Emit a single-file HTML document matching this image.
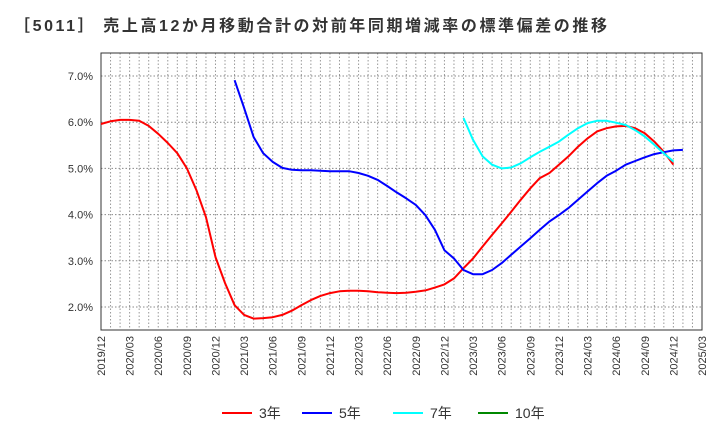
<!DOCTYPE html>
<html><head><meta charset="utf-8"><style>
body{margin:0;background:#fff;font-family:"Liberation Sans","Noto Sans CJK JP",sans-serif;}
svg text{font-family:"Liberation Sans","Noto Sans CJK JP",sans-serif;}
</style></head><body>
<svg id="c" width="720" height="440" xmlns="http://www.w3.org/2000/svg">
<text x="14" y="31" font-size="16" font-weight="bold" fill="#333" textLength="593" lengthAdjust="spacing">［5011］ 売上高12か月移動合計の対前年同期増減率の標準偏差の推移</text>
</svg>
<script>
const yTicks=[2,3,4,5,6,7];
const xLabels=["2019/12","2020/03","2020/06","2020/09","2020/12","2021/03","2021/06","2021/09","2021/12","2022/03","2022/06","2022/09","2022/12","2023/03","2023/06","2023/09","2023/12","2024/03","2024/06","2024/09","2024/12","2025/03"];
const s3Start=0;
const s3=[5.96,6.02,6.05,6.05,6.03,5.92,5.75,5.55,5.33,5.0,4.53,3.95,3.08,2.52,2.04,1.83,1.75,1.76,1.78,1.83,1.92,2.04,2.15,2.24,2.3,2.34,2.35,2.35,2.34,2.32,2.31,2.3,2.31,2.33,2.36,2.42,2.49,2.62,2.84,3.05,3.31,3.56,3.81,4.06,4.32,4.57,4.79,4.9,5.08,5.26,5.47,5.65,5.8,5.87,5.91,5.92,5.87,5.76,5.58,5.36,5.08];
const s5Start=14;
const s5=[6.91,6.31,5.68,5.33,5.14,5.01,4.97,4.96,4.96,4.95,4.94,4.94,4.94,4.9,4.84,4.75,4.62,4.48,4.35,4.21,3.99,3.67,3.23,3.05,2.8,2.71,2.71,2.8,2.95,3.13,3.31,3.49,3.67,3.85,3.99,4.14,4.32,4.5,4.68,4.84,4.95,5.08,5.16,5.24,5.31,5.35,5.39,5.4];
const s7Start=38;
const s7=[6.09,5.62,5.26,5.08,5.0,5.02,5.11,5.24,5.36,5.47,5.58,5.73,5.87,5.98,6.03,6.03,5.99,5.94,5.83,5.69,5.51,5.33,5.15];
const s10Start=0;
const s10=[];
const L=101,R=702,T=53,B=330;
const X=m=>L+m*(R-L)/63;
const Y=v=>307-(v-2)*46.2;
const svg=document.getElementById('c');
const NS="http://www.w3.org/2000/svg";
function mk(t,a){const e=document.createElementNS(NS,t);for(const k in a)e.setAttribute(k,a[k]);svg.appendChild(e);return e;}
for(let m=1;m<63;m++){const g=mk('line',{x1:X(m),x2:X(m),y1:T,y2:B,stroke:'#999','stroke-dasharray':'1.5,2','stroke-width':1});

}
yTicks.forEach(v=>{const g=mk('line',{x1:L,x2:R,y1:Y(v),y2:Y(v),stroke:'#888','stroke-dasharray':'1.5,2','stroke-width':1});


const t=mk('text',{x:93,y:Y(v)+4,'text-anchor':'end','font-size':11,fill:'#333'});t.textContent=v.toFixed(1)+'%';

});
xLabels.forEach((s,i)=>{const x=X(i*3);const t=mk('text',{transform:`translate(${x+4},336) rotate(-90)`,'text-anchor':'end','font-size':11,fill:'#333'});t.textContent=s;

});
const fr=mk('rect',{x:L,y:T,width:R-L,height:B-T,fill:'none',stroke:'#333','stroke-width':1});


function series(d,st,c,n){if(!d.length)return;const p=d.map((v,i)=>X(st+i).toFixed(1)+','+Y(v).toFixed(1)).join(' ');
const e=mk('polyline',{points:p,fill:'none',stroke:c,'stroke-width':2,'stroke-linejoin':'round'});

}
series(s3,s3Start,'#f00','line-3yr');
series(s5,s5Start,'#00f','line-5yr');
series(s7,s7Start,'#0ff','line-7yr');
series(s10,s10Start,'#080','line-10yr');
[['3年','#f00',222],['5年','#00f',302],['7年','#0ff',393],['10年','#080',478]].forEach(([n,c,x])=>{
const l=mk('line',{x1:x,x2:x+30,y1:413,y2:413,stroke:c,'stroke-width':2});


const t=mk('text',{x:x+37,y:418,'font-size':14,fill:'#333'});t.textContent=n;

});
</script>
</body></html>
